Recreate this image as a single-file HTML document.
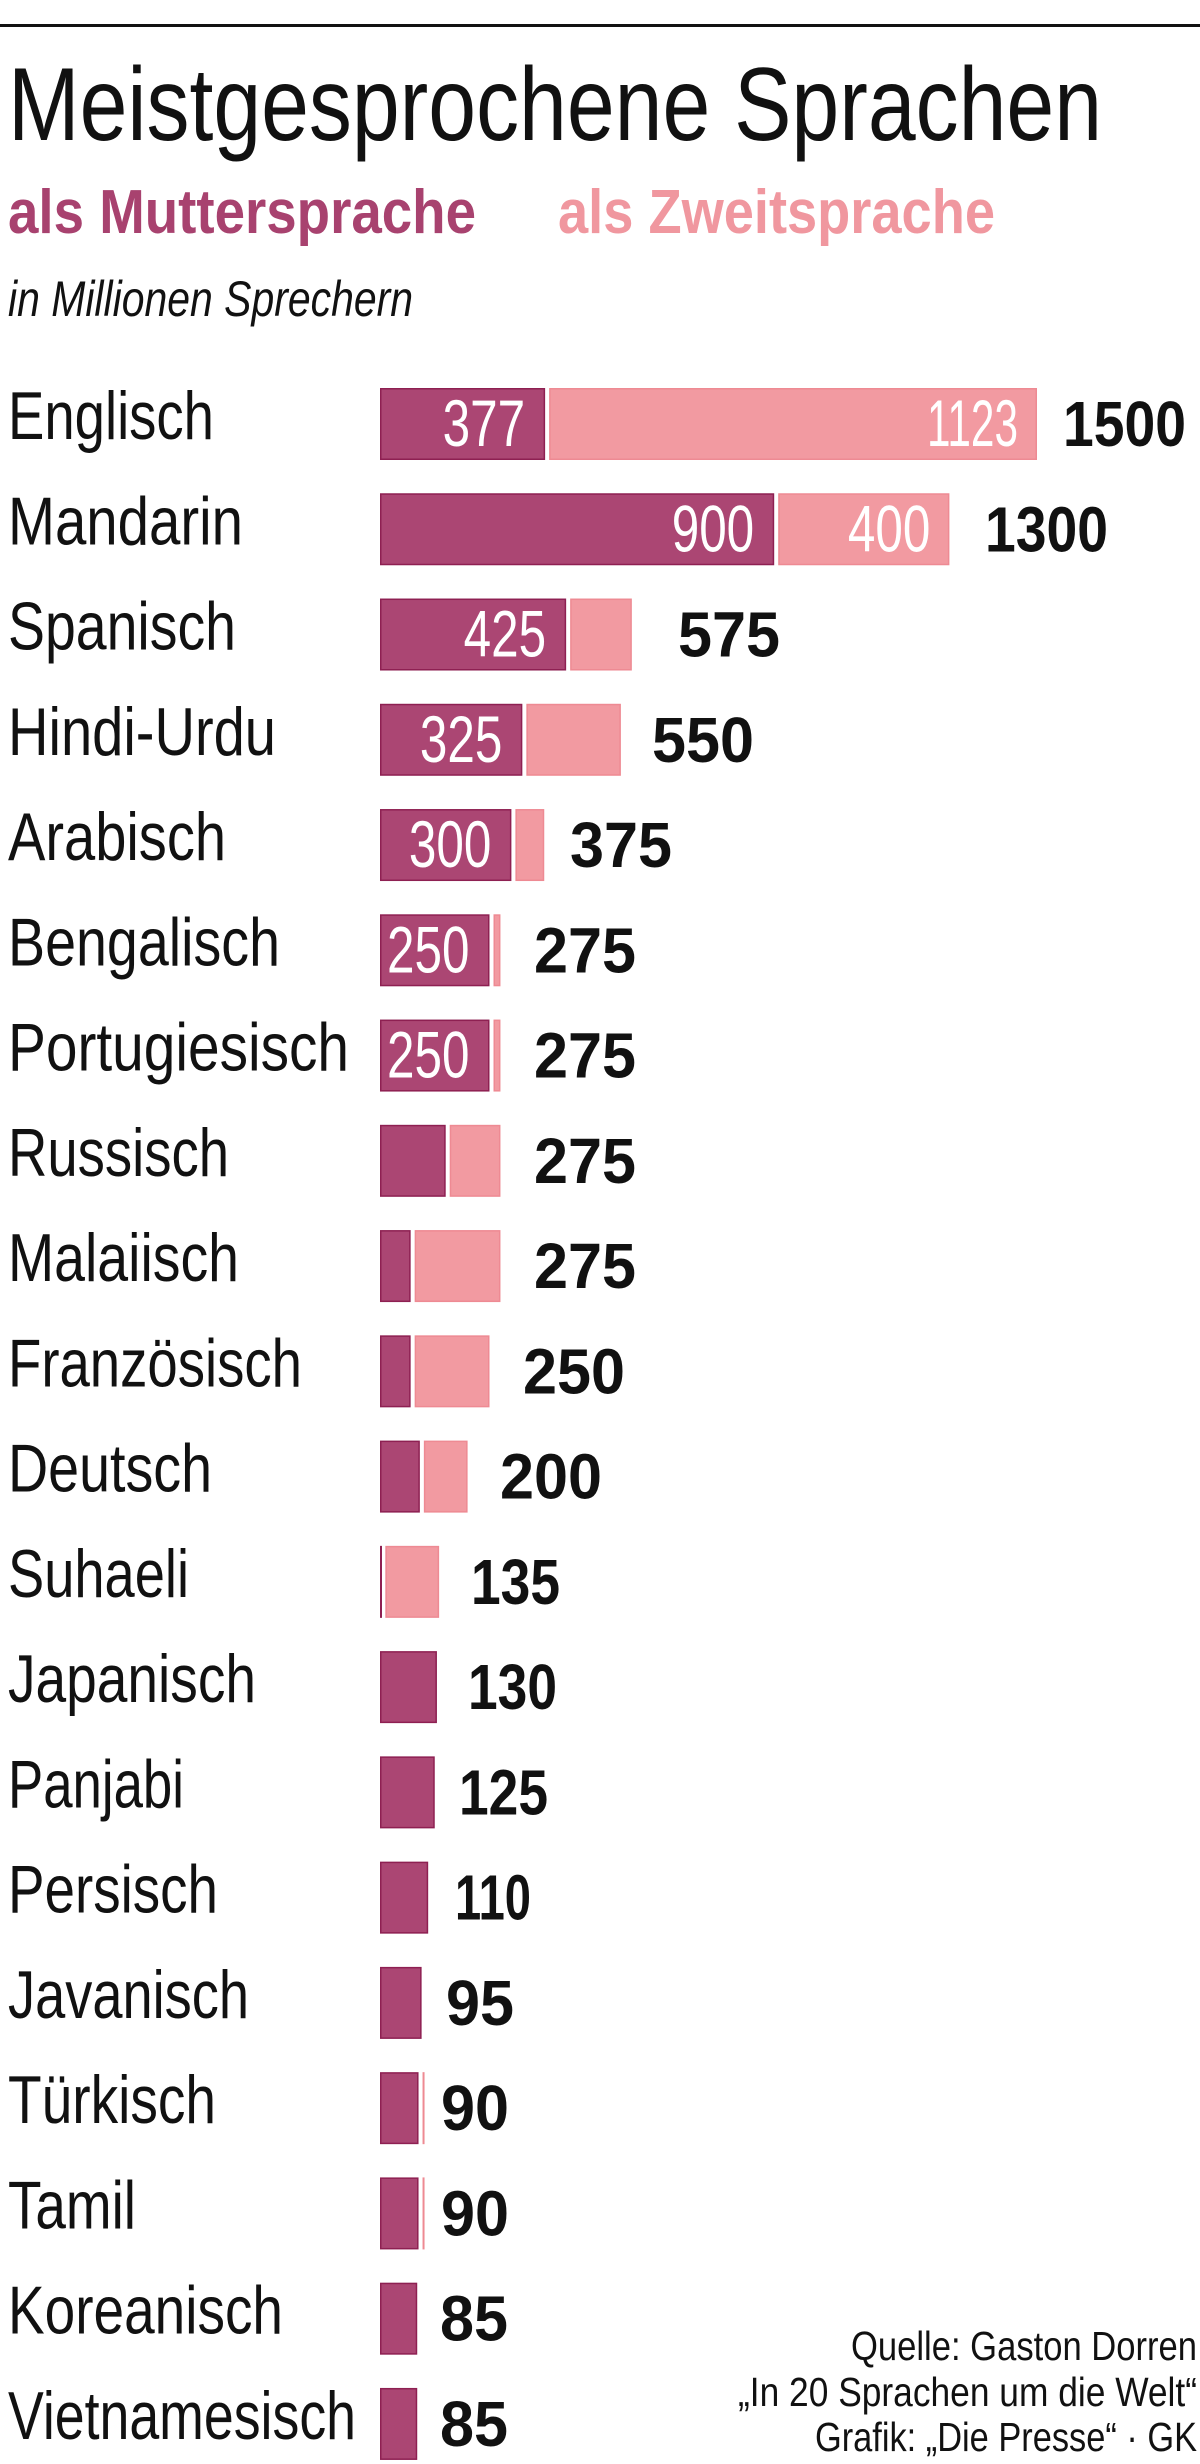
<!DOCTYPE html>
<html><head><meta charset="utf-8"><style>
html,body{margin:0;padding:0;background:#fff;}
svg{display:block;}
</style></head><body>
<svg width="1200" height="2464" viewBox="0 0 1200 2464" xmlns="http://www.w3.org/2000/svg" font-family="'Liberation Sans', sans-serif">
<rect x="0" y="0" width="1200" height="2464" fill="#fff"/>
<rect x="0" y="24" width="1200" height="3" fill="#111"/>
<text x="8" y="140" font-size="104" font-weight="300" fill="#111" textLength="1094" lengthAdjust="spacingAndGlyphs">Meistgesprochene Sprachen</text>
<text x="8" y="233" font-size="62" font-weight="bold" fill="#a8426f" textLength="468" lengthAdjust="spacingAndGlyphs">als Muttersprache</text>
<text x="558" y="233" font-size="62" font-weight="bold" fill="#f0979f" textLength="437" lengthAdjust="spacingAndGlyphs">als Zweitsprache</text>
<text x="8" y="316" font-size="50" font-style="italic" fill="#111" textLength="405" lengthAdjust="spacingAndGlyphs">in Millionen Sprechern</text>
<g id="rows"></g>
<g font-size="41" fill="#111" text-anchor="end">
<text x="1197" y="2360" textLength="346" lengthAdjust="spacingAndGlyphs">Quelle: Gaston Dorren</text>
<text x="1197" y="2406" textLength="459" lengthAdjust="spacingAndGlyphs">„In 20 Sprachen um die Welt“</text>
<text x="1197" y="2451" textLength="382" lengthAdjust="spacingAndGlyphs">Grafik: „Die Presse“ · GK</text>
</g>
<script>
const d=[["Englisch",377,1123,1500,206,1063,1,1],["Mandarin",900,400,1300,235,985,1,1],["Spanisch",425,150,575,228,678,1,0],["Hindi-Urdu",325,225,550,268,652,1,0],["Arabisch",300,75,375,218,570,1,0],["Bengalisch",250,25,275,272,534,1,0],["Portugiesisch",250,25,275,341,534,1,0],["Russisch",150,125,275,221,534,0,0],["Malaiisch",70,205,275,231,534,0,0],["Französisch",70,180,250,294,523,0,0],["Deutsch",91,109,200,204,500,0,0],["Suhaeli",3,132,135,181,471,0,0],["Japanisch",130,0,130,248,468,0,0],["Panjabi",125,0,125,176,459,0,0],["Persisch",110,0,110,210,455,0,0],["Javanisch",95,0,95,241,446,0,0],["Türkisch",88,2,90,208,441,0,0],["Tamil",88,2,90,128,441,0,0],["Koreanisch",85,0,85,275,440,0,0],["Vietnamesisch",85,0,85,348,440,0,0]];
const s=0.438,X=380,ns="http://www.w3.org/2000/svg",g=document.getElementById("rows");
function el(t,a,txt){const e=document.createElementNS(ns,t);for(const k in a)e.setAttribute(k,a[k]);if(txt!==undefined)e.textContent=txt;g.appendChild(e);return e;}
function nw(str,big){let w=0;for(const c of str)w+=(c==="1"?(big?21:18):(big?34:27.5));return w;}
d.forEach((r,i)=>{const y=388+i*105.26;const h=72;
el("text",{x:8,y:y+51,"font-size":68,fill:"#111",textLength:r[4],lengthAdjust:"spacingAndGlyphs"},r[0]);
const w1=r[1]*s;el("rect",{x:X+0.75,y:y+0.75,width:Math.max(w1-1.5,0.5),height:h-1.5,fill:"#ab4673",stroke:"#8e2052","stroke-width":1.5});
if(r[2]>0){const x2=X+w1+4,w2=Math.max(r[2]*s-4,1.5);el("rect",{x:x2+0.75,y:y+0.75,width:Math.max(w2-1.5,0.5),height:h-1.5,fill:"#f29aa1",stroke:"#ee8a93","stroke-width":1.5});}
if(r[6]){const t=String(r[1]);el("text",{x:X+w1-20,y:y+58,"font-size":66,fill:"#fff","text-anchor":"end",textLength:nw(t,false),lengthAdjust:"spacingAndGlyphs"},t);}
if(r[7]){const t=String(r[2]);el("text",{x:X+r[3]*s-19,y:y+58,"font-size":66,fill:"#fff","text-anchor":"end",textLength:nw(t,false),lengthAdjust:"spacingAndGlyphs"},t);}
const t=String(r[3]);el("text",{x:r[5],y:y+58,"font-size":64,"font-weight":"bold",fill:"#111",textLength:nw(t,true),lengthAdjust:"spacingAndGlyphs"},t);
});
</script>
</svg>
</body></html>
